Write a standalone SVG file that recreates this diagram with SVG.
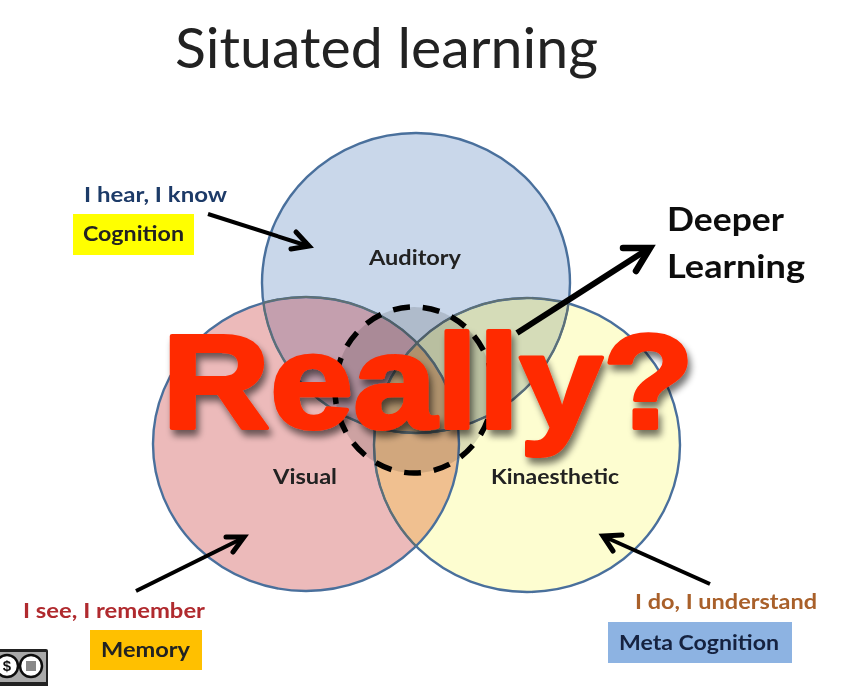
<svg xmlns="http://www.w3.org/2000/svg" width="858" height="686" viewBox="0 0 858 686">
<style>
text{font-family:"Lato","Open Sans","Liberation Sans",sans-serif}
.lb{font-weight:700;font-size:21px;fill:#222}
.tag{font-weight:700;font-size:21px}
.ring{fill:none;stroke:#4a6f9c;stroke-width:2.4}
.inner{fill:none;stroke:#5f6f72;stroke-width:1.8}
.arr{fill:none;stroke:#000;stroke-width:4;stroke-linecap:butt}
.head{fill:none;stroke:#000;stroke-width:5;stroke-linecap:round;stroke-linejoin:miter}
</style>
<defs>
<clipPath id="ca"><ellipse cx="416" cy="283" rx="154" ry="150"/></clipPath>
<clipPath id="cv"><ellipse cx="306" cy="444" rx="153" ry="147"/></clipPath>
<clipPath id="ck"><ellipse cx="527" cy="445" rx="153" ry="147"/></clipPath>
<filter id="sh" x="-5%" y="-15%" width="112%" height="135%"><feGaussianBlur in="SourceAlpha" stdDeviation="3.5"/><feOffset dx="3" dy="6"/><feComponentTransfer><feFuncA type="linear" slope="0.55"/></feComponentTransfer><feMerge><feMergeNode/><feMergeNode in="SourceGraphic"/></feMerge></filter>
<filter id="soft" x="0" y="0" width="100%" height="100%"><feGaussianBlur stdDeviation="0.5"/></filter>
</defs>
<rect width="858" height="686" fill="#fff"/>
<g filter="url(#soft)">
<text id="title" x="175" y="68" font-size="56" fill="#222" textLength="423" lengthAdjust="spacingAndGlyphs">Situated learning</text>

<g id="venn-fills">
<ellipse cx="416" cy="283" rx="154" ry="150" fill="#c9d7ea"/>
<ellipse cx="306" cy="444" rx="153" ry="147" fill="#ecbaba"/>
<ellipse cx="527" cy="445" rx="153" ry="147" fill="#fdfdd0"/>
<g clip-path="url(#ca)"><ellipse cx="306" cy="444" rx="153" ry="147" fill="#c49fae"/><ellipse cx="527" cy="445" rx="153" ry="147" fill="#d5dcb8"/></g>
<g clip-path="url(#cv)"><ellipse cx="527" cy="445" rx="153" ry="147" fill="#f0c090"/></g>
<g clip-path="url(#ca)"><g clip-path="url(#cv)"><ellipse cx="527" cy="445" rx="153" ry="147" fill="#c9a87e"/></g></g>
</g>

<g id="auditory"><ellipse class="ring" cx="416" cy="283" rx="154" ry="150"/><text class="lb" x="415" y="265" text-anchor="middle" textLength="92" lengthAdjust="spacingAndGlyphs">Auditory</text></g>
<g id="visual"><ellipse class="ring" cx="306" cy="444" rx="153" ry="147"/><text class="lb" x="305" y="484" text-anchor="middle" textLength="64" lengthAdjust="spacingAndGlyphs">Visual</text></g>
<g id="kinaesthetic"><ellipse class="ring" cx="527" cy="445" rx="153" ry="147"/><text class="lb" x="555" y="484" text-anchor="middle" textLength="128" lengthAdjust="spacingAndGlyphs">Kinaesthetic</text></g>

<g id="overlap-lines">
<g clip-path="url(#ca)"><ellipse class="inner" cx="306" cy="444" rx="153" ry="147"/><ellipse class="inner" cx="527" cy="445" rx="153" ry="147"/></g>
<g clip-path="url(#cv)"><ellipse class="inner" cx="416" cy="283" rx="154" ry="150"/><ellipse class="inner" cx="527" cy="445" rx="153" ry="147"/></g>
<g clip-path="url(#ck)"><ellipse class="inner" cx="416" cy="283" rx="154" ry="150"/></g>
</g>

<g id="core"><ellipse cx="414" cy="390" rx="79" ry="83" fill="#000" fill-opacity="0.13" stroke="#000" stroke-width="5.5" stroke-dasharray="17 13"/></g>

<g id="connectors">
<line class="arr" x1="208" y1="214" x2="308" y2="246"/><path class="head" d="M296 232L309 246L291 249"/>
<line class="arr" x1="136" y1="591" x2="243" y2="538"/><path class="head" d="M226 537L244 537L233 552"/>
<line class="arr" x1="710" y1="584" x2="605" y2="537"/><path class="head" d="M622 535L603 536L613 551"/>
<line class="arr" style="stroke-width:6" x1="517" y1="333" x2="648" y2="249"/><path class="head" style="stroke-width:6.5" d="M623 248L650 248L636 271"/>
</g>

<g id="cognition"><text class="tag" x="84" y="202" fill="#1f3a68" textLength="143" lengthAdjust="spacingAndGlyphs">I hear, I know</text><rect x="73" y="214" width="121" height="41" fill="#ffff00"/><text class="tag" x="83" y="241" fill="#222" textLength="101" lengthAdjust="spacingAndGlyphs">Cognition</text></g>
<g id="memory"><text class="tag" x="23" y="618" fill="#b02a2e" textLength="182" lengthAdjust="spacingAndGlyphs">I see, I remember</text><rect x="90" y="630" width="112" height="40" fill="#ffc000"/><text class="tag" x="101" y="657" fill="#222" textLength="89" lengthAdjust="spacingAndGlyphs">Memory</text></g>
<g id="meta"><text class="tag" x="635" y="609" fill="#a9612b" textLength="182" lengthAdjust="spacingAndGlyphs">I do, I understand</text><rect x="608" y="622" width="184" height="41" fill="#8db3e2"/><text class="tag" x="619" y="650" fill="#14233f" textLength="160" lengthAdjust="spacingAndGlyphs">Meta Cognition</text></g>
<g id="deeper"><text x="667" y="231" font-size="33" font-weight="700" fill="#111" textLength="117" lengthAdjust="spacingAndGlyphs">Deeper</text><text x="667" y="278" font-size="33" font-weight="700" fill="#111" textLength="138" lengthAdjust="spacingAndGlyphs">Learning</text></g>

<g id="really" filter="url(#sh)">
<text x="162" y="428" font-size="134" font-weight="700" style="font-family:'Liberation Sans',Arial,sans-serif;stroke:#ff2a00;stroke-width:4;stroke-linejoin:round" fill="#ff2a00" textLength="532" lengthAdjust="spacingAndGlyphs">Really?</text>
</g>

<g id="cc-badge">
<rect x="-8" y="649" width="56" height="40" rx="2" fill="#222"/>
<rect x="-8" y="652" width="54" height="30" fill="#a9a9a9"/>
<circle cx="7" cy="666" r="11" fill="#fff" stroke="#111" stroke-width="2.5"/>
<text x="7" y="671" font-size="15" font-weight="700" text-anchor="middle" fill="#111" style="font-family:'Liberation Sans',sans-serif">$</text>
<circle cx="31" cy="666" r="11" fill="#fff" stroke="#111" stroke-width="2.5"/>
<rect x="26" y="661" width="10" height="10" fill="#888"/>
</g>
</g>
</svg>
